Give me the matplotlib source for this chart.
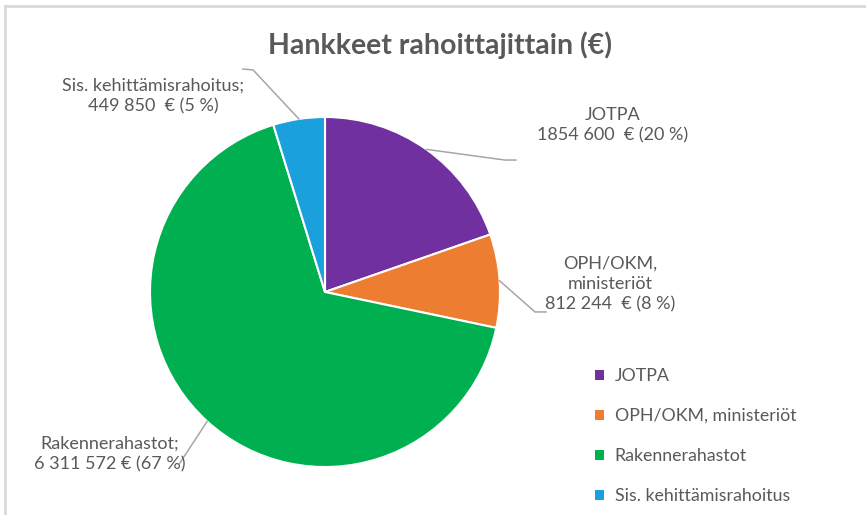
import matplotlib
matplotlib.use("Agg")
import matplotlib.pyplot as plt
import numpy as np
from matplotlib.lines import Line2D
from matplotlib.patches import Patch

categories = ["JOTPA", "OPH/OKM, ministeriöt", "Rakennerahastot", "Sis. kehittämisrahoitus"]
values = [1854600, 812244, 6311572, 449850]
data_labels = ["JOTPA\n1854 600  € (20 %)",
               "OPH/OKM,\nministeriöt\n812 244  € (8 %)",
               "Rakennerahastot;\n6 311 572 € (67 %)",
               "Sis. kehittämisrahoitus;\n449 850  € (5 %)"]
colors = ["#7030A0", "#ED7D31", "#00B050", "#1AA0DC"]

plt.rcParams['font.family'] = ['Lato', 'DejaVu Sans']
TXT = "#595959"

W, H = 866, 515
fig = plt.figure(figsize=(W/100, H/100), dpi=100)
cx, cy, r = 325, 292, 175
ax = fig.add_axes([(cx - r)/W, (H - cy - r)/H, 2*r/W, 2*r/H])
wedges, _ = ax.pie(values, colors=colors, startangle=90, counterclock=False,
                   wedgeprops=dict(edgecolor="white", linewidth=1.5))
ax.set_xlim(-1, 1)
ax.set_ylim(-1, 1)
ax.set_aspect('equal')

# label layout (text center, leader elbow) in pie coordinates
text_pos = [(1.646, 0.951), (1.629, 0.046), (-1.229, -0.926), (-0.983, 1.12)]
elbows = [[(1.029, 0.754), (1.091, 0.754)],
          [(1.20, -0.114), (1.263, -0.114)],
          [(-0.829, -0.977)],
          [(-0.411, 1.269), (-0.469, 1.274)]]
for w, lab, tp, el in zip(wedges, data_labels, text_pos, elbows):
    ang = np.deg2rad((w.theta1 + w.theta2) / 2)
    xs = [np.cos(ang)] + [p[0] for p in el]
    ys = [np.sin(ang)] + [p[1] for p in el]
    ax.plot(xs, ys, color="#A6A6A6", lw=1.1, clip_on=False, zorder=3)
    ax.text(tp[0], tp[1], lab, ha="center", va="center", fontsize=13,
            color=TXT, linespacing=1.35, clip_on=False)

fig.text(440/W, 1 - 45/H, "Hankkeet rahoittajittain (€)", ha="center", va="center",
         fontsize=20.5, fontweight="bold", color=TXT)

handles = [Patch(facecolor=c, edgecolor="none") for c in colors]
fig.legend(handles, categories, loc="upper left", bbox_to_anchor=(595/W, 1 - 368/H),
           frameon=False, fontsize=12.8, labelcolor=TXT, handlelength=0.5,
           handleheight=0.5, handletextpad=0.6, labelspacing=1.35, borderpad=0, borderaxespad=0)

# chart border (top and left visible)
fig.add_artist(Line2D([5/W, 5/W], [0, 1 - 6/H], color="#D9D9D9", lw=2, transform=fig.transFigure))
fig.add_artist(Line2D([5/W, 1], [1 - 6/H, 1 - 6/H], color="#D9D9D9", lw=2, transform=fig.transFigure))

fig.savefig("out.png", dpi=100)
